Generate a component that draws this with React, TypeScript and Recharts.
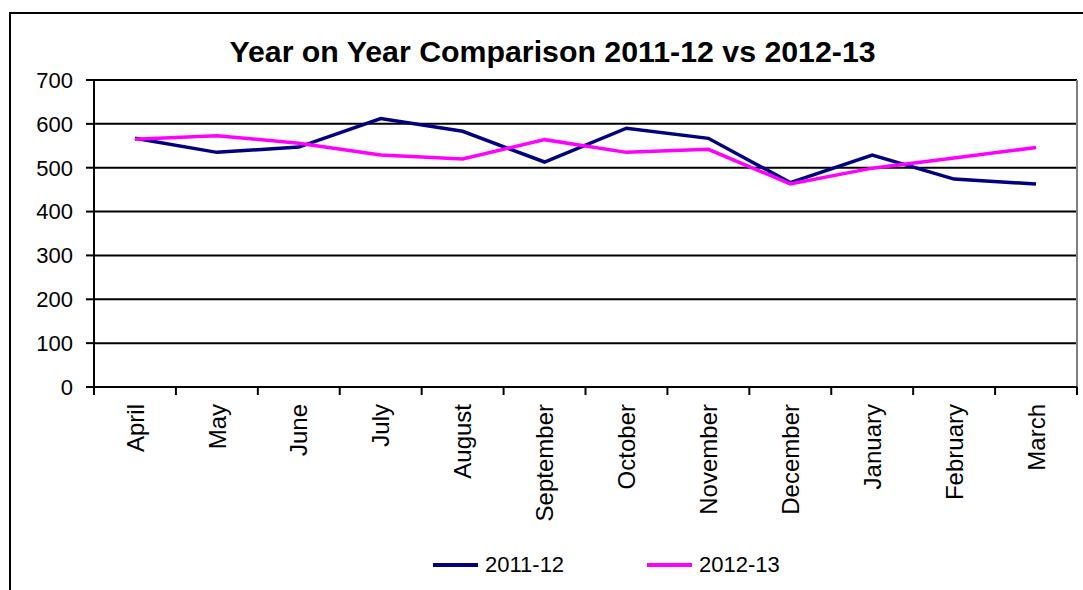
import React from 'react';
import { LineChart, Line, XAxis, YAxis, CartesianGrid, Legend } from 'recharts';

const months = ['April', 'May', 'June', 'July', 'August', 'September', 'October', 'November', 'December', 'January', 'February', 'March'];
const series2011 = [567, 535, 547, 612, 583, 513, 590, 567, 466, 529, 474, 463];
const series2012 = [565, 573, 556, 529, 520, 564, 535, 542, 463, 499, 522, 546];
const yTicks = [0, 100, 200, 300, 400, 500, 600, 700];

const WIDTH = 1083;
const HEIGHT = 590;
const MARGIN = { top: 80, right: 6, left: 0, bottom: 10 };
const Y_AXIS_W = 94;
const BAND = (WIDTH - MARGIN.right - MARGIN.left - Y_AXIS_W) / months.length;
const FONT = '"Liberation Sans", Arial, sans-serif';

const chartData = months.map((m, i) => ({ month: m, a: series2011[i], b: series2012[i] }));

// Excel style: tick marks between categories, labels rotated
const MonthTick = (props: any) => {
  const { x, y, payload, index } = props;
  const y0 = y;
  return (
    <g>
      <line x1={x - BAND / 2} x2={x - BAND / 2} y1={y0} y2={y0 + 8} stroke="#000" strokeWidth={2} />
      {index === months.length - 1 && (
        <line x1={x + BAND / 2} x2={x + BAND / 2} y1={y0} y2={y0 + 8} stroke="#000" strokeWidth={2} />
      )}
      <text
        transform={`translate(${x},${y0 + 17}) rotate(-90)`}
        textAnchor="end"
        dy="0.36em"
        fontSize={24}
        fontFamily={FONT}
        fill="#000"
      >
        {payload.value}
      </text>
    </g>
  );
};

const LegendContent = () => (
  <div style={{ height: 30, display: 'flex', alignItems: 'center', paddingLeft: 433, fontFamily: FONT, fontSize: 22 }}>
    <span style={{ display: 'inline-block', width: 45, height: 3.5, background: '#000080' }} />
    <span style={{ marginLeft: 7, width: 162 }}>2011-12</span>
    <span style={{ display: 'inline-block', width: 45, height: 3.5, background: '#FF00FF' }} />
    <span style={{ marginLeft: 7 }}>2012-13</span>
  </div>
);

export default function App() {
  return (
    <div style={{ position: 'fixed', left: 0, top: 0, width: WIDTH, height: HEIGHT, overflow: 'hidden', background: '#fff' }}>
      <div style={{ position: 'absolute', left: 9, top: 12, width: 2000, height: 2000, borderLeft: '2px solid #000', borderTop: '2px solid #000' }} />
      <div
        style={{
          position: 'absolute', left: 11, top: 37, width: WIDTH, textAlign: 'center',
          fontFamily: FONT, fontWeight: 'bold', fontSize: 30.3, lineHeight: '30px',
        }}
      >
        Year on Year Comparison 2011-12 vs 2012-13
      </div>
      <LineChart width={WIDTH} height={HEIGHT} data={chartData} margin={MARGIN}>
        <CartesianGrid vertical={false} stroke="#000" strokeWidth={2} />
        <CartesianGrid horizontal={false} verticalPoints={[WIDTH - MARGIN.right]} stroke="#808080" strokeWidth={2} />
        <XAxis
          dataKey="month"
          interval={0}
          height={163}
          padding={{ left: BAND / 2, right: BAND / 2 }}
          tickLine={false}
          tickSize={0}
          tickMargin={0}
          tick={<MonthTick />}
          axisLine={{ stroke: '#000', strokeWidth: 2 }}
        />
        <YAxis
          width={Y_AXIS_W}
          domain={[0, 700]}
          ticks={yTicks}
          interval={0}
          tickSize={8}
          tickMargin={13}
          tickLine={{ stroke: '#000', strokeWidth: 2 }}
          axisLine={{ stroke: '#000', strokeWidth: 2 }}
          tick={{ fill: '#000', fontSize: 22, fontFamily: FONT }}
        />
        <Legend verticalAlign="bottom" content={<LegendContent />} />
        <Line type="linear" dataKey="a" name="2011-12" stroke="#000080" strokeWidth={3.5} dot={false} isAnimationActive={false} />
        <Line type="linear" dataKey="b" name="2012-13" stroke="#FF00FF" strokeWidth={3.5} dot={false} isAnimationActive={false} />
      </LineChart>
    </div>
  );
}
